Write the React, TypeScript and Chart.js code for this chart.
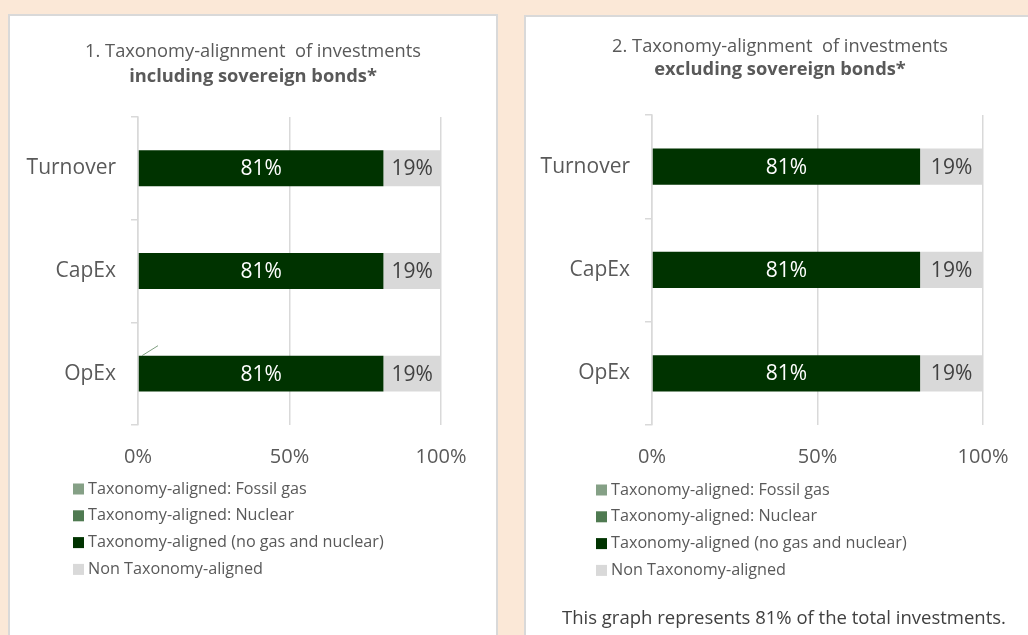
import React, { useEffect, useRef } from "react";
import { Chart, registerables } from "chart.js";

Chart.register(...registerables);

const FONT = "'Open Sans', sans-serif";

const categories = ["Turnover", "CapEx", "OpEx"];
const seriesLabels = [
  "Taxonomy-aligned: Fossil gas",
  "Taxonomy-aligned: Nuclear",
  "Taxonomy-aligned (no gas and nuclear)",
  "Non Taxonomy-aligned",
];
const seriesColors = ["#85A086", "#4F7A51", "#003300", "#D9D9D9"];
const labelColors = ["#FFFFFF", "#FFFFFF", "#FFFFFF", "#404040"];

// Chart 1: including sovereign bonds
const fossilGasIncl = [0, 0, 0];
const nuclearIncl = [0, 0, 0];
const alignedIncl = [81, 81, 81];
const nonAlignedIncl = [19, 19, 19];

// Chart 2: excluding sovereign bonds
const fossilGasExcl = [0, 0, 0];
const nuclearExcl = [0, 0, 0];
const alignedExcl = [81, 81, 81];
const nonAlignedExcl = [19, 19, 19];

const xTickValues = [0, 50, 100];
const title1 = ["1. Taxonomy-alignment  of investments", "including sovereign bonds*"];
const title2 = ["2. Taxonomy-alignment  of investments", "excluding sovereign bonds*"];
const footerText = "This graph represents 81% of the total investments.";

const barLabelPlugin = {
  id: "barLabels",
  afterDatasetsDraw(chart: any, _args: any, opts: any) {
    const ctx = chart.ctx;
    ctx.save();
    ctx.font = `${opts.size}px ${FONT}`;
    ctx.textAlign = "center";
    ctx.textBaseline = "middle";
    chart.data.datasets.forEach((ds: any, i: number) => {
      const meta = chart.getDatasetMeta(i);
      meta.data.forEach((bar: any, j: number) => {
        const v = ds.data[j];
        if (!v) return;
        const p = bar.getProps(["x", "y", "base"], true);
        ctx.fillStyle = labelColors[i];
        ctx.fillText(v + "%", (p.x + p.base) / 2, p.y + 1);
      });
    });
    if (opts.leader) {
      const meta = chart.getDatasetMeta(0);
      const bar: any = meta.data[categories.length - 1];
      const p = bar.getProps(["x", "y", "height"], true);
      const top = p.y - p.height / 2;
      ctx.strokeStyle = "#7F9F80";
      ctx.lineWidth = 1;
      ctx.beginPath();
      ctx.moveTo(p.x + 4, top);
      ctx.lineTo(p.x + 20, top - 10);
      ctx.stroke();
    }
    ctx.restore();
  },
};

const sideLegendPlugin = {
  id: "sideLegend",
  afterDraw(chart: any, _args: any, opts: any) {
    const ctx = chart.ctx;
    ctx.save();
    ctx.font = `${opts.size}px ${FONT}`;
    ctx.textBaseline = "middle";
    ctx.textAlign = "left";
    chart.data.datasets.forEach((ds: any, i: number) => {
      const y = opts.y + i * opts.gap;
      ctx.fillStyle = ds.backgroundColor;
      ctx.fillRect(opts.x, y - opts.box / 2, opts.box, opts.box);
      ctx.fillStyle = "#595959";
      ctx.fillText(ds.label, opts.x + opts.box + 4, y);
    });
    if (opts.footer) {
      ctx.font = `${opts.footerSize}px ${FONT}`;
      ctx.fillStyle = "#404040";
      ctx.fillText(opts.footer, opts.footerX, opts.footerY);
    }
    ctx.restore();
  },
};

function makeConfig(
  titles: string[],
  series: number[][],
  layout: any,
  legendOpts: any,
  leader: boolean
): any {
  return {
    type: "bar",
    data: {
      labels: categories,
      datasets: series.map((d, i) => ({
        label: seriesLabels[i],
        data: d,
        backgroundColor: seriesColors[i],
        borderWidth: 0,
        barPercentage: 0.35,
        categoryPercentage: 1,
      })),
    },
    options: {
      responsive: false,
      animation: false,
      indexAxis: "y",
      layout: { padding: { left: 0, right: 0, top: 0, bottom: layout.bottom } },
      events: [],
      scales: {
        x: {
          stacked: true,
          min: 0,
          max: 100,
          afterBuildTicks: (scale: any) => {
            scale.ticks = xTickValues.map((v) => ({ value: v }));
          },
          afterFit: (scale: any) => {
            scale.height = layout.xHeight;
            scale.paddingRight = layout.rightPad;
          },
          ticks: {
            callback: (v: any) => v + "%",
            color: "#595959",
            font: { family: FONT, size: 20 },
            padding: layout.xPad,
            maxRotation: 0,
          },
          grid: { color: "#D9D9D9", lineWidth: 1.5, drawTicks: false },
          border: { display: false },
        },
        y: {
          stacked: true,
          afterFit: (scale: any) => {
            scale.width = layout.yWidth;
          },
          ticks: {
            color: "#595959",
            font: { family: FONT, size: 21 },
            padding: 15,
          },
          grid: {
            color: "#D9D9D9",
            lineWidth: 1.5,
            drawOnChartArea: false,
            tickLength: 7,
            offset: true,
          },
          border: { display: true, color: "#D9D9D9", width: 1.5 },
        },
      },
      plugins: {
        legend: { display: false },
        tooltip: { enabled: false },
        title: {
          display: true,
          text: titles[0],
          color: "#595959",
          font: { family: FONT, size: 18.3, weight: "normal", lineHeight: 1.2 },
          padding: { top: layout.titleTop, bottom: layout.titleBottom },
        },
        subtitle: {
          display: true,
          text: titles[1],
          color: "#595959",
          font: { family: FONT, size: 18.3, weight: "bold", lineHeight: 1.2 },
          padding: { top: 0, bottom: layout.subBottom },
        },
        barLabels: { size: 21, leader },
        sideLegend: legendOpts,
      },
    },
    plugins: [barLabelPlugin, sideLegendPlugin],
  };
}

function ChartCanvas(props: { config: any; left: number; top: number; width: number; height: number }) {
  const ref = useRef<HTMLCanvasElement | null>(null);
  useEffect(() => {
    if (!ref.current) return;
    const chart = new Chart(ref.current, props.config);
    return () => chart.destroy();
  }, []);
  return (
    <canvas
      ref={ref}
      width={props.width}
      height={props.height}
      style={{
        position: "absolute",
        left: props.left,
        top: props.top,
        width: props.width,
        height: props.height,
      }}
    />
  );
}

export default function App() {
  const cfg1 = makeConfig(
    title1,
    [fossilGasIncl, nuclearIncl, alignedIncl, nonAlignedIncl],
    {
      bottom: 150,
      rightPad: 56,
      xHeight: 60,
      yWidth: 129,
      xPad: 20,
      titleTop: 26,
      titleBottom: 2.5,
      subBottom: 29.5,
    },
    { x: 64, y: 474, gap: 26.8, box: 11, size: 16.2 },
    true
  );
  const cfg2 = makeConfig(
    title2,
    [fossilGasExcl, nuclearExcl, alignedExcl, nonAlignedExcl],
    {
      bottom: 150,
      rightPad: 52,
      xHeight: 60,
      yWidth: 127,
      xPad: 20,
      titleTop: 20,
      titleBottom: 1,
      subBottom: 34,
    },
    {
      x: 71,
      y: 474,
      gap: 26.8,
      box: 11,
      size: 16.2,
      footer: footerText,
      footerX: 37,
      footerY: 603,
      footerSize: 18.5,
    },
    false
  );
  return (
    <div
      style={{
        position: "fixed",
        left: 0,
        top: 0,
        width: 1028,
        height: 635,
        overflow: "hidden",
        background: "#FBE8D7",
      }}
    >
      <div
        style={{
          position: "absolute",
          left: 8,
          top: 14,
          width: 490,
          height: 650,
          boxSizing: "border-box",
          border: "2px solid #D9D9D9",
          background: "#FFFFFF",
        }}
      />
      <div
        style={{
          position: "absolute",
          left: 524,
          top: 15,
          width: 520,
          height: 650,
          boxSizing: "border-box",
          border: "2px solid #D9D9D9",
          background: "#FFFFFF",
        }}
      />
      <ChartCanvas config={cfg1} left={9} top={15} width={488} height={620} />
      <ChartCanvas config={cfg2} left={525} top={16} width={510} height={619} />
    </div>
  );
}
